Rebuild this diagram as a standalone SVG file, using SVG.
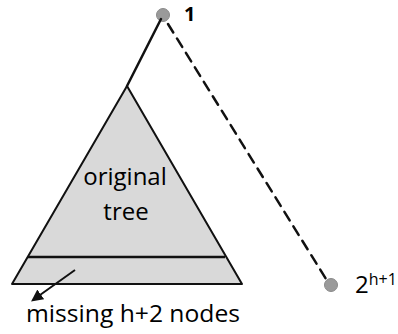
<svg xmlns="http://www.w3.org/2000/svg" width="398" height="334" viewBox="0 0 398 334">
  <style>
    .lbl { font-family: "Open Sans", "Liberation Sans", sans-serif; fill: #000; }
    .edge { stroke: #111; stroke-width: 2.5; fill: none; stroke-linecap: round; }
    .dot { fill: #9a9a9a; stroke: #8a8a8a; stroke-width: 1; }
  </style>
  <defs>
    <marker id="arrow" viewBox="0 0 10 10" refX="8" refY="5" markerWidth="6" markerHeight="6" orient="auto">
      <path d="M0,0 L10,5 L0,10 z" fill="#111"/>
    </marker>
  </defs>
  <rect width="398" height="334" fill="#ffffff"/>

  <!-- subtree -->
  <g id="tree">
    <polygon points="127,86 12,284 242,284" fill="#d9d9d9" stroke="#111" stroke-width="2" stroke-linejoin="round"/>
    <line x1="28" y1="257" x2="225" y2="257" stroke="#111" stroke-width="2.5"/>
    <text class="lbl" x="125" y="185" font-size="24" text-anchor="middle">original</text>
    <text class="lbl" x="126" y="220" font-size="24" text-anchor="middle">tree</text>
  </g>

  <g id="root">
    <circle class="dot" cx="163" cy="15" r="6.5"/>
    <text class="lbl" x="184" y="21" font-size="20" font-weight="bold">1</text>
  </g>

  <g id="last">
    <circle class="dot" cx="331" cy="285" r="6.5"/>
    <text class="lbl" x="355" y="293" font-size="24">2<tspan font-size="16" dy="-8">h+1</tspan></text>
  </g>

  <g id="missing">
    <text class="lbl" x="26" y="322" font-size="24" textLength="214" lengthAdjust="spacingAndGlyphs">missing h+2 nodes</text>
  </g>

  <!-- connectors -->
  <g id="connectors">
    <line class="edge" x1="127" y1="86" x2="161" y2="19"/>
    <line class="edge" x1="168" y1="24" x2="326" y2="279" stroke-dasharray="10,7" stroke-linecap="butt"/>
    <line x1="75" y1="270" x2="33" y2="300" stroke="#111" stroke-width="2" marker-end="url(#arrow)"/>
  </g>
</svg>
